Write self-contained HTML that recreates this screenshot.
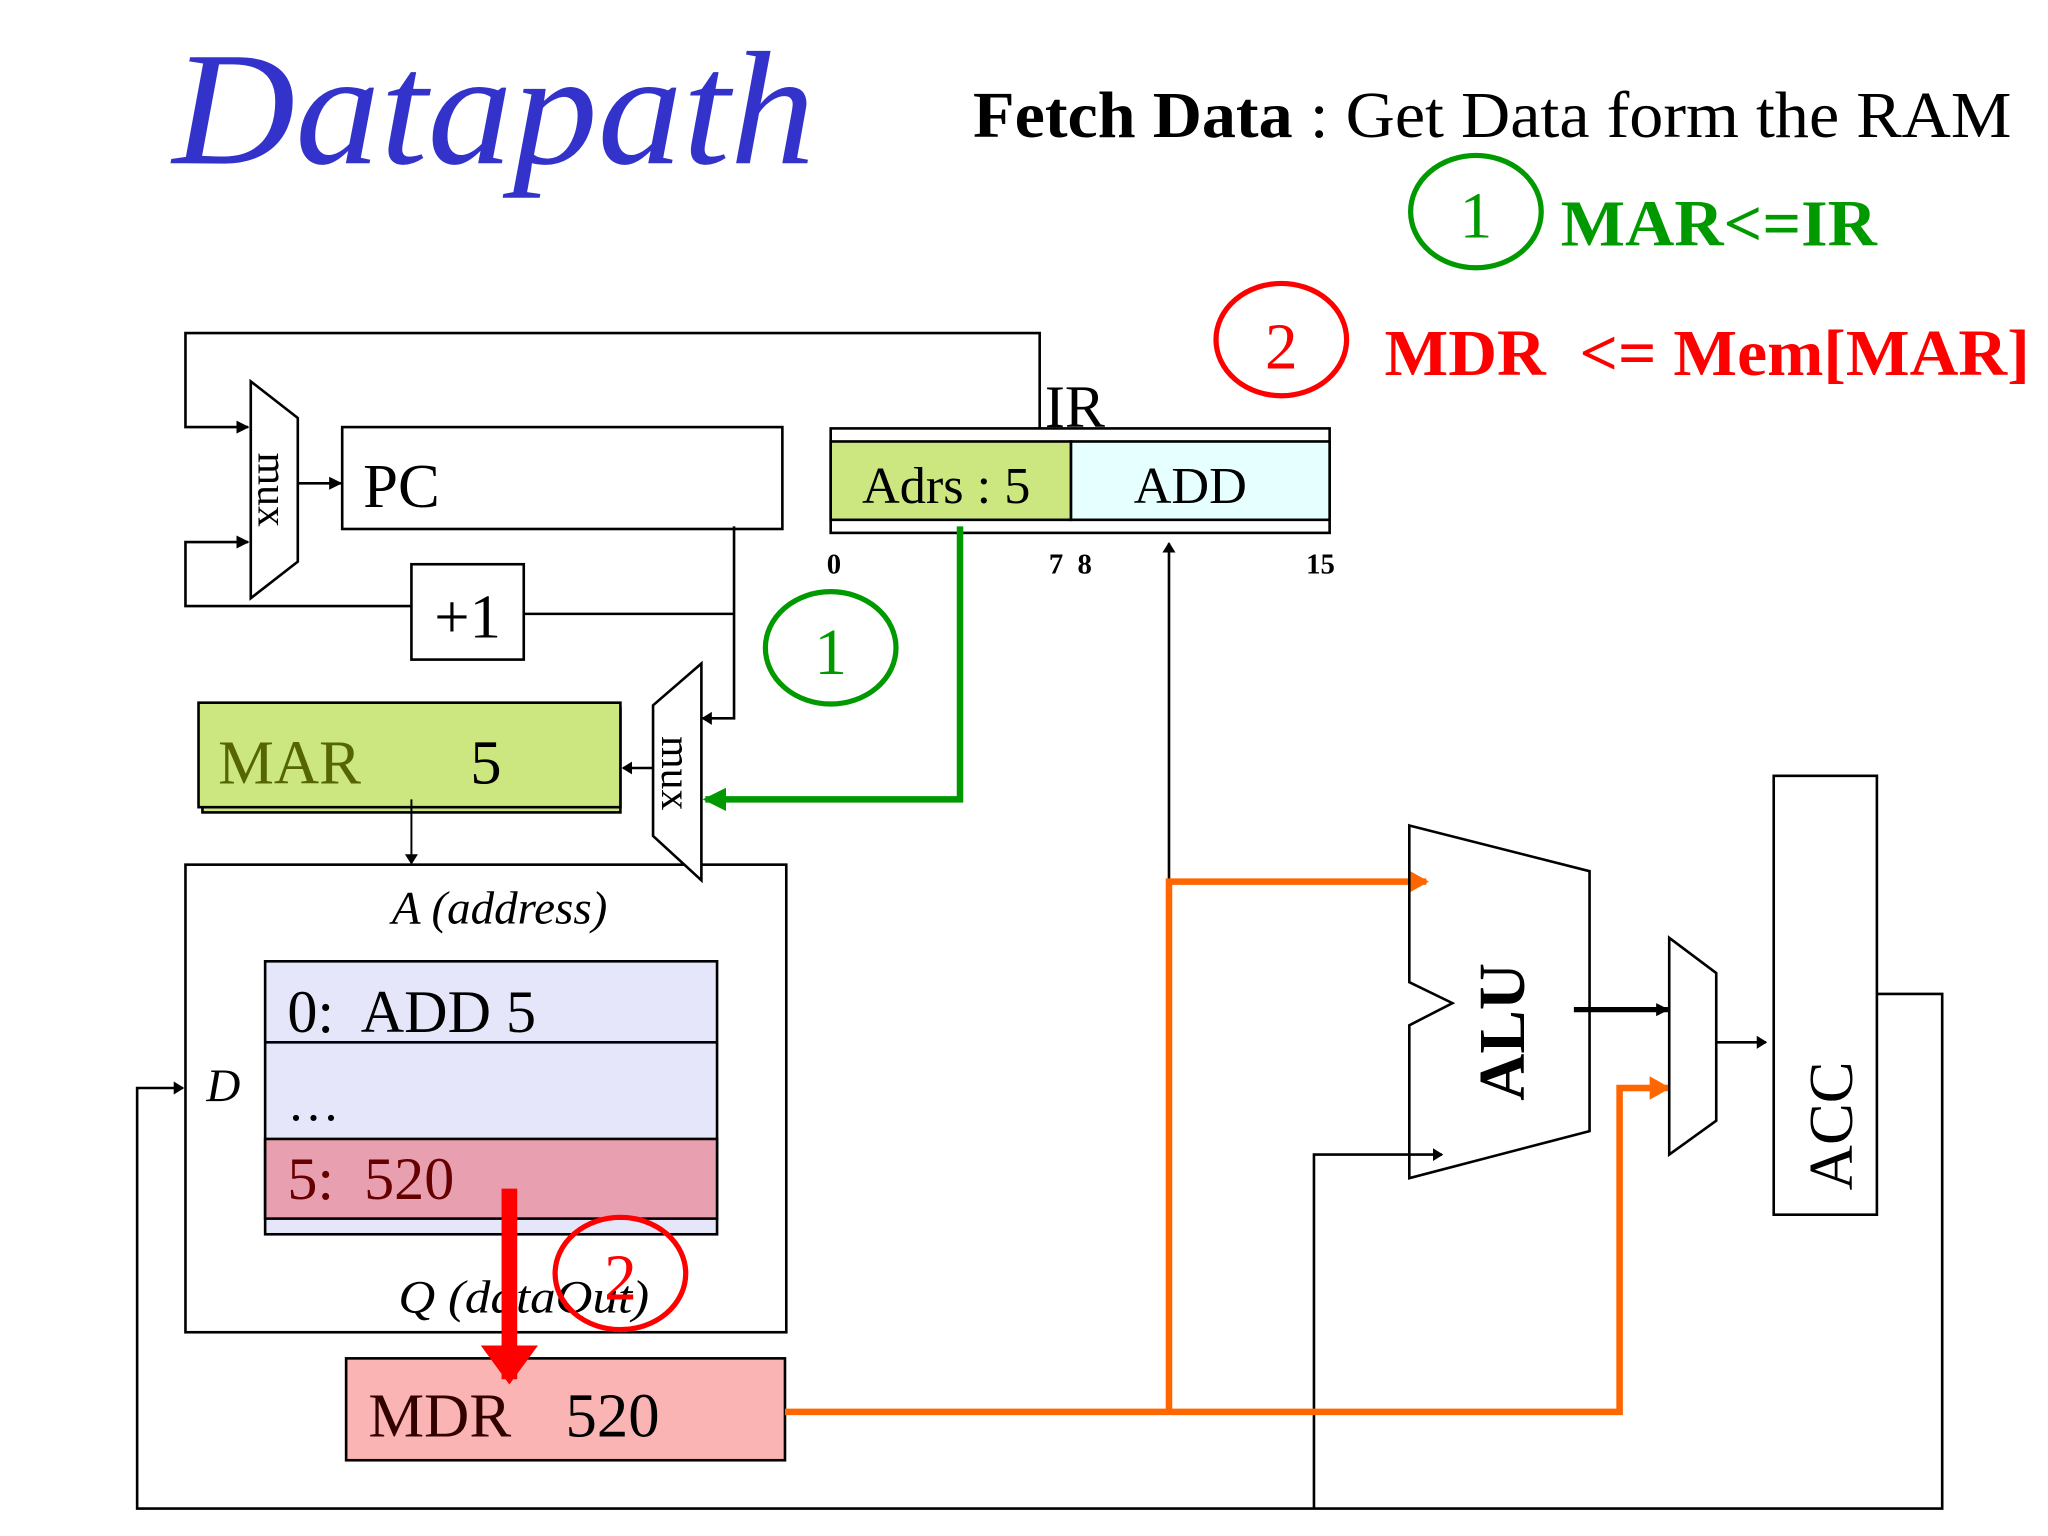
<!DOCTYPE html>
<html><head><meta charset="utf-8"><style>
html,body{margin:0;padding:0;background:#fff;}
svg{display:block;}
text{font-family:"Liberation Serif",serif;}
</style></head><body>
<svg width="2048" height="1536" viewBox="0 0 1568 1176" preserveAspectRatio="none" xmlns="http://www.w3.org/2000/svg">
<defs>
<marker id="ab" markerWidth="10" markerHeight="10" refX="9" refY="5" orient="auto" markerUnits="userSpaceOnUse"><path d="M0,0 L10,5 L0,10 z" fill="#000"/></marker>
<marker id="abs" markerWidth="8" markerHeight="10" refX="7" refY="5" orient="auto" markerUnits="userSpaceOnUse"><path d="M0,0 L8,5 L0,10 z" fill="#000"/></marker>
<marker id="ag" markerWidth="18" markerHeight="18" refX="16" refY="9" orient="auto" markerUnits="userSpaceOnUse"><path d="M0,0 L18,9 L0,18 z" fill="#009900"/></marker>
<marker id="ao" markerWidth="16" markerHeight="18" refX="14" refY="9" orient="auto" markerUnits="userSpaceOnUse"><path d="M0,0 L16,9 L0,18 z" fill="#ff6600"/></marker>
<marker id="ar" markerWidth="30" markerHeight="44" refX="26" refY="22" orient="auto" markerUnits="userSpaceOnUse"><path d="M0,0 L30,22 L0,44 z" fill="#ff0000"/></marker>
</defs>
<rect width="1568" height="1176" fill="#fff"/>
<text x="132" y="125" font-size="124" font-style="italic" fill="#3333cc" textLength="492" lengthAdjust="spacingAndGlyphs">Datapath</text>
<text x="745" y="105" font-size="50" fill="#000" textLength="795" lengthAdjust="spacingAndGlyphs"><tspan font-weight="bold">Fetch Data</tspan> : Get Data form the RAM</text>
<ellipse cx="1130" cy="162" rx="50" ry="43" fill="none" stroke="#009900" stroke-width="4"/>
<text x="1130" y="182" font-size="50" fill="#009900" text-anchor="middle">1</text>
<text x="1195" y="188" font-size="50" font-weight="bold" fill="#009900" textLength="242" lengthAdjust="spacingAndGlyphs">MAR&lt;=IR</text>
<ellipse cx="981" cy="260" rx="50" ry="43" fill="none" stroke="#ff0000" stroke-width="4"/>
<text x="981" y="282" font-size="50" fill="#ff0000" text-anchor="middle">2</text>
<text x="1060" y="287" font-size="50" font-weight="bold" fill="#ff0000" xml:space="preserve" textLength="494" lengthAdjust="spacingAndGlyphs">MDR  &lt;= Mem[MAR]</text>

<g stroke="#000" stroke-width="2" fill="none">
<polyline points="796,330 796,255 142,255 142,327 190,327" marker-end="url(#ab)"/>
<polyline points="315,464 142,464 142,415 190,415" marker-end="url(#ab)"/>
<polygon points="192,292 228,320 228,430 192,458" fill="#fff"/>
<line x1="228" y1="370" x2="261" y2="370" marker-end="url(#ab)"/>
<rect x="262" y="327" width="337" height="78" fill="#fff"/>
<rect x="315" y="432" width="86" height="73" fill="#fff"/>
<polyline points="401,470 562,470"/>
<polyline points="562,403 562,550 538,550" marker-end="url(#abs)"/>
</g>
<text transform="translate(198,375) rotate(90)" font-size="32" text-anchor="middle">mux</text>
<text x="278" y="388" font-size="48">PC</text>
<text x="358" y="488" font-size="48" text-anchor="middle">+1</text>

<rect x="636" y="328" width="382" height="80" fill="#fff" stroke="#000" stroke-width="2"/>
<rect x="636" y="338" width="184" height="60" fill="#cce680" stroke="#000" stroke-width="2"/>
<rect x="820" y="338" width="198" height="60" fill="#e6ffff" stroke="#000" stroke-width="2"/>
<text x="660" y="385" font-size="40">Adrs : 5</text>
<text x="868" y="385" font-size="40">ADD</text>
<text x="800" y="327" font-size="46">IR</text>
<text x="633" y="439" font-size="22" font-weight="bold">0</text>
<text x="803" y="439" font-size="22" font-weight="bold" xml:space="preserve">7  8</text>
<text x="1000" y="439" font-size="22" font-weight="bold">15</text>

<ellipse cx="636" cy="496" rx="50" ry="43" fill="none" stroke="#009900" stroke-width="4"/>
<text x="636" y="516" font-size="50" fill="#009900" text-anchor="middle">1</text>

<!-- MAR -->
<rect x="155" y="542" width="320" height="80" fill="#cce680" stroke="#000" stroke-width="2"/>
<rect x="152" y="538" width="323" height="80" fill="#cce680" stroke="#000" stroke-width="2"/>
<text x="167" y="600" font-size="48" fill="#556600">MAR</text>
<text x="360" y="600" font-size="48">5</text>
<line x1="315" y1="612" x2="315" y2="661" stroke="#000" stroke-width="1.5" marker-end="url(#abs)"/>

<!-- memory -->
<rect x="142" y="662" width="460" height="358" fill="#fff" stroke="#000" stroke-width="2"/>
<text x="300" y="707" font-size="36" font-style="italic">A (address)</text>
<text x="158" y="843" font-size="36" font-style="italic">D</text>
<rect x="203" y="736" width="346" height="209" fill="#e6e6fa" stroke="#000" stroke-width="2"/>
<line x1="203" y1="798" x2="549" y2="798" stroke="#000" stroke-width="2"/>
<rect x="203" y="872" width="346" height="61" fill="#e8a0b0" stroke="#000" stroke-width="2"/>
<text x="220" y="790" font-size="46" xml:space="preserve">0:  ADD 5</text>
<text x="220" y="858" font-size="40">…</text>
<text x="220" y="918" font-size="46" fill="#660000" xml:space="preserve">5:  520</text>
<text x="305" y="1005" font-size="36" font-style="italic" textLength="192" lengthAdjust="spacingAndGlyphs">Q (dataOut)</text>
<ellipse cx="475" cy="975" rx="50" ry="43" fill="none" stroke="#ff0000" stroke-width="4"/>
<text x="475" y="995" font-size="50" fill="#ff0000" text-anchor="middle">2</text>

<!-- mux2 -->
<polygon points="500,540 537,508 537,674 500,640" fill="#fff" stroke="#000" stroke-width="2"/>
<text transform="translate(507,592) rotate(90)" font-size="32" text-anchor="middle">mux</text>
<polyline points="735,403 735,612 540,612" fill="none" stroke="#009900" stroke-width="5" marker-end="url(#ag)"/>
<line x1="500" y1="588" x2="477" y2="588" stroke="#000" stroke-width="2" marker-end="url(#abs)"/>

<!-- MDR -->
<rect x="265" y="1040" width="336" height="78" fill="#fbb4b4" stroke="#000" stroke-width="2"/>
<text x="282" y="1100" font-size="48" fill="#330000">MDR</text>
<text x="433" y="1100" font-size="48" fill="#000">520</text>
<line x1="390" y1="910" x2="390" y2="1056" stroke="#ff0000" stroke-width="12" marker-end="url(#ar)"/>

<g stroke="#000" stroke-width="2" fill="none">
<polyline points="1437,761 1487,761 1487,1155 105,1155 105,833 140,833" marker-end="url(#abs)"/>
<polyline points="1006,1155 1006,884 1104,884" marker-end="url(#abs)"/>
<line x1="895" y1="675" x2="895" y2="416" marker-end="url(#abs)"/>
</g>

<g stroke="#ff6600" stroke-width="5" fill="none">
<polyline points="601,1081 1240,1081 1240,833 1277,833" marker-end="url(#ao)"/>
<polyline points="895,1081 895,675 1092,675" marker-end="url(#ao)"/>
</g>

<polygon points="1079,632 1217,667 1217,866 1079,902 1079,785 1112,768 1079,752" fill="none" stroke="#000" stroke-width="2"/>
<text transform="translate(1167,790) rotate(-90)" font-size="50" font-weight="bold" text-anchor="middle">ALU</text>
<line x1="1205" y1="773" x2="1277" y2="773" stroke="#000" stroke-width="4" marker-end="url(#ab)"/>
<polygon points="1278,718 1314,745 1314,858 1278,884" fill="#fff" stroke="#000" stroke-width="2"/>
<line x1="1314" y1="798" x2="1352" y2="798" stroke="#000" stroke-width="2" marker-end="url(#abs)"/>
<rect x="1358" y="594" width="79" height="336" fill="#fff" stroke="#000" stroke-width="2"/>
<text transform="translate(1418,862) rotate(-90)" font-size="48" text-anchor="middle">ACC</text>
</svg>
</body></html>
